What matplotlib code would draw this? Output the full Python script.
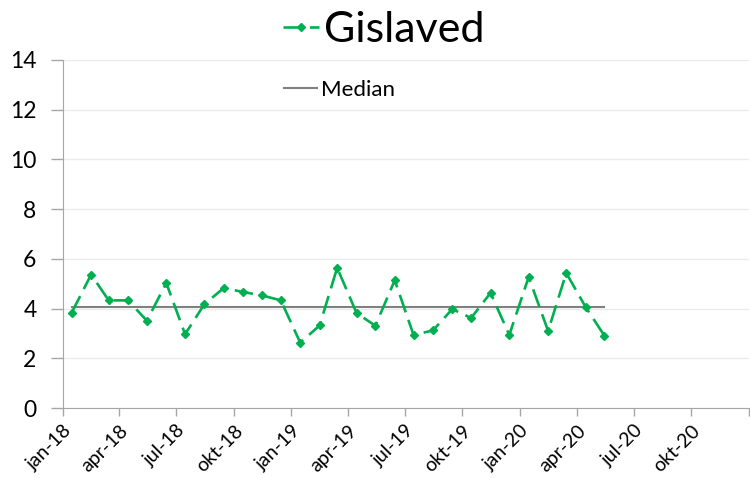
import numpy as np
import pandas as pd
import matplotlib
matplotlib.use("Agg")
import matplotlib.pyplot as plt
import matplotlib.transforms as mtransforms
from matplotlib.lines import Line2D

plt.rcParams['font.family'] = ['Lato', 'DejaVu Sans']

# monthly values, jan-18 .. may-20
months = pd.date_range("2018-01-01", "2020-05-01", freq="MS")
values = [3.84, 5.37, 4.33, 4.33, 3.51, 5.03, 2.97, 4.18, 4.83, 4.67, 4.53, 4.33,
          2.63, 3.32, 5.64, 3.82, 3.31, 5.14, 2.94, 3.12, 3.98, 3.62, 4.63, 2.94,
          5.27, 3.10, 5.43, 4.06, 2.91]
series_name = "Gislaved"
median_name = "Median"

tick_dates = pd.date_range("2018-01-01", "2020-10-01", freq="QS")
tick_labels = ["jan-18", "apr-18", "jul-18", "okt-18", "jan-19", "apr-19",
               "jul-19", "okt-19", "jan-20", "apr-20", "jul-20", "okt-20"]

green = "#00B050"
grey = "#808080"
line_kw = dict(color=green, lw=1.9, dashes=(7, 3), marker="D", markersize=4)

# Excel places date points in the middle of the month
x = months + pd.Timedelta(days=14)
med = np.median(values)

fig = plt.figure(figsize=(7.5, 4.78), dpi=100)
ax = fig.add_axes([0.084, 0.1464, 0.9147, 0.7281])

ax.plot(x, [med] * len(x), color=grey, lw=1.5, zorder=2)
ax.plot(x, values, zorder=3, **line_kw)

ax.set_ylim(0, 14)
ax.set_yticks(range(0, 15, 2))
ax.set_xlim(pd.Timestamp("2018-01-01"), pd.Timestamp("2021-01-01"))
ax.set_xticks(list(tick_dates) + [pd.Timestamp("2021-01-01")])
ax.set_xticklabels(tick_labels + [""], rotation=45, ha="right",
                   rotation_mode="anchor", fontsize=14)
shift = mtransforms.ScaledTranslation(13 / 100, -4 / 100, fig.dpi_scale_trans)
for lbl in ax.get_xticklabels():
    lbl.set_transform(lbl.get_transform() + shift)
ax.tick_params(axis="y", labelsize=16.5, length=9, color="#a6a6a6", width=1, pad=10)
ax.tick_params(axis="x", length=6, color="#a6a6a6", width=1, pad=4)

ax.grid(axis="y", color="#ebebeb", lw=1)
ax.set_axisbelow(True)
for s in ("top", "right"):
    ax.spines[s].set_visible(False)
for s in ("left", "bottom"):
    ax.spines[s].set_color("#a6a6a6")

h1 = Line2D([], [], **line_kw)
fig.legend([h1], [series_name], loc="center left", bbox_to_anchor=(0.377, 0.937),
           fontsize=31, frameon=False, handlelength=0.85, handletextpad=0.1,
           borderaxespad=0, borderpad=0)
h2 = Line2D([], [], color=grey, lw=1.5)
fig.legend([h2], [median_name], loc="center left", bbox_to_anchor=(0.378, 0.812),
           fontsize=16, frameon=False, handlelength=1.5, handletextpad=0.2,
           borderaxespad=0, borderpad=0)

fig.savefig("out.png", dpi=100)
